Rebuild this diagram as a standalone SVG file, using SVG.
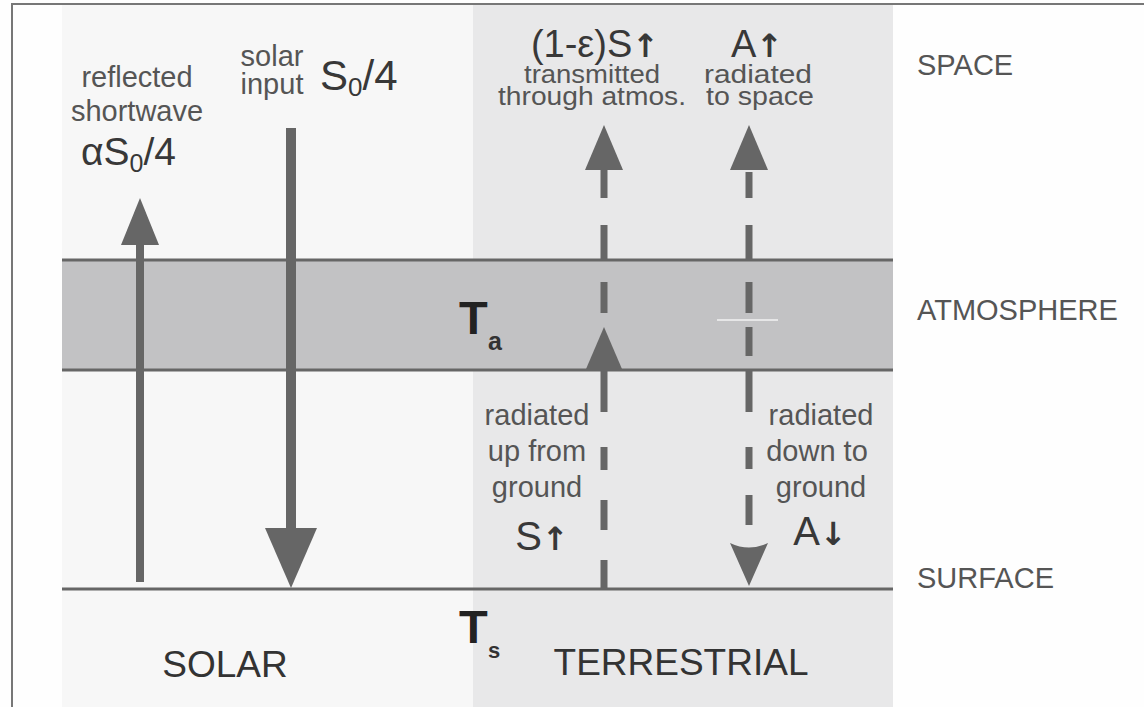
<svg xmlns="http://www.w3.org/2000/svg" width="1144" height="707" viewBox="0 0 1144 707">
<style>
text{font-family:"Liberation Sans",Arial,Helvetica,sans-serif}
.sm{font-size:29px;fill:#555}
.tp{font-size:25px;fill:#555}
.big{font-size:40px;fill:#383838}
.ar{font-family:"DejaVu Sans",sans-serif;font-weight:bold}
.cap{font-size:29px;fill:#555}
.pan{font-size:37px;fill:#333}
.tt{font-size:47px;font-weight:bold;fill:#222}
.ts{font-size:25px;font-weight:bold;fill:#333}
.lay{stroke:#666;stroke-width:3;fill:none}
.arr{stroke:#666;fill:none}
.dash{stroke:#666;stroke-width:7;fill:none}
.head{fill:#666}
</style>
<rect x="0" y="0" width="1144" height="707" fill="#fefefe"/>
<g id="panels">
<rect x="62" y="5" width="411" height="702" fill="#f7f7f7"/>
<rect x="473" y="5" width="420" height="702" fill="#e8e8e9"/>
</g>
<g id="atmosphere">
<rect x="62" y="260" width="831" height="110" fill="#c2c2c4"/>
<line class="lay" x1="62" y1="260" x2="893" y2="260"/>
<line class="lay" x1="62" y1="370" x2="893" y2="370"/>
<line x1="717" y1="320" x2="778" y2="320" stroke="#fff" stroke-width="1.5" opacity="0.8"/>
</g>
<g id="surface">
<line class="lay" x1="62" y1="589" x2="893" y2="589"/>
</g>
<g id="frame">
<path d="M12 707 V4 H1144" stroke="#777" stroke-width="2" fill="none"/>
</g>
<g id="connectors">
<g id="reflected-arrow">
<line class="arr" x1="140" y1="582" x2="140" y2="240" stroke-width="8"/>
<polygon class="head" points="140,198 121,245 159,245"/>
</g>
<g id="solar-arrow">
<line class="arr" x1="291" y1="128" x2="291" y2="535" stroke-width="10"/>
<polygon class="head" points="265,528 317,528 291,588"/>
</g>
<g id="up-ground-arrow">
<path class="dash" d="M604 588V560M604 530V500M604 470V447M604 412V371M604 313V282M604 259V225M604 198V168"/>
<polygon class="head" points="604,125 585,170 623,170"/>
<polygon class="head" points="604,327 586,369 622,369"/>
</g>
<g id="atmos-arrow">
<path class="dash" d="M749 172V198M749 225V259M749 282V313M749 327V356M749 371V412M749 447V469M749 495V525"/>
<polygon class="head" points="749,125 730,170 768,170"/>
<path class="head" d="M730 543 Q749 552 768 543 L749 586 Z"/>
</g>
</g>
<g id="solar-labels">
<text class="sm" x="137" y="87" text-anchor="middle">reflected</text>
<text class="sm" x="137" y="121" text-anchor="middle">shortwave</text>
<text class="big" x="81" y="165" style="font-size:39px">αS<tspan font-size="25" dy="7">0</tspan><tspan dy="-7">/4</tspan></text>
<text class="sm" x="272" y="66" text-anchor="middle">solar</text>
<text class="sm" x="272" y="94" text-anchor="middle">input</text>
<text class="big" x="320" y="90" style="font-size:42px">S<tspan font-size="26" dy="6">0</tspan><tspan dy="-6">/4</tspan></text>
</g>
<g id="terrestrial-labels">
<text class="big" x="595" y="57" text-anchor="middle" style="font-size:38px">(1-ε)S<tspan class="ar" font-size="32">↑</tspan></text>
<text class="tp" x="592" y="83" text-anchor="middle" textLength="136" lengthAdjust="spacingAndGlyphs">transmitted</text>
<text class="tp" x="592" y="105" text-anchor="middle" textLength="188" lengthAdjust="spacingAndGlyphs">through atmos.</text>
<text class="big" x="757" y="57" text-anchor="middle" style="font-size:38px">A<tspan class="ar" font-size="32">↑</tspan></text>
<text class="tp" x="758" y="83" text-anchor="middle" textLength="108" lengthAdjust="spacingAndGlyphs">radiated</text>
<text class="tp" x="760" y="105" text-anchor="middle" textLength="108" lengthAdjust="spacingAndGlyphs">to space</text>
<text class="sm" x="537" y="425" text-anchor="middle">radiated</text>
<text class="sm" x="537" y="461" text-anchor="middle">up from</text>
<text class="sm" x="537" y="497" text-anchor="middle">ground</text>
<text class="big" x="542" y="550" text-anchor="middle">S<tspan class="ar" font-size="32">↑</tspan></text>
<text class="sm" x="821" y="425" text-anchor="middle">radiated</text>
<text class="sm" x="817" y="461" text-anchor="middle">down to</text>
<text class="sm" x="821" y="497" text-anchor="middle">ground</text>
<text class="big" x="820" y="545" text-anchor="middle">A<tspan class="ar" font-size="32">↓</tspan></text>
</g>
<g id="temps">
<text class="tt" x="459" y="334">T</text>
<text class="ts" x="488" y="350">a</text>
<text class="tt" x="459" y="643">T</text>
<text class="ts" x="488" y="658" style="font-size:22px">s</text>
</g>
<g id="panel-labels">
<text class="pan" x="225" y="677" text-anchor="middle">SOLAR</text>
<text class="pan" x="681" y="675" text-anchor="middle">TERRESTRIAL</text>
</g>
<g id="layer-labels">
<text class="cap" x="917" y="75">SPACE</text>
<text class="cap" x="917" y="320">ATMOSPHERE</text>
<text class="cap" x="917" y="588">SURFACE</text>
</g>
</svg>
